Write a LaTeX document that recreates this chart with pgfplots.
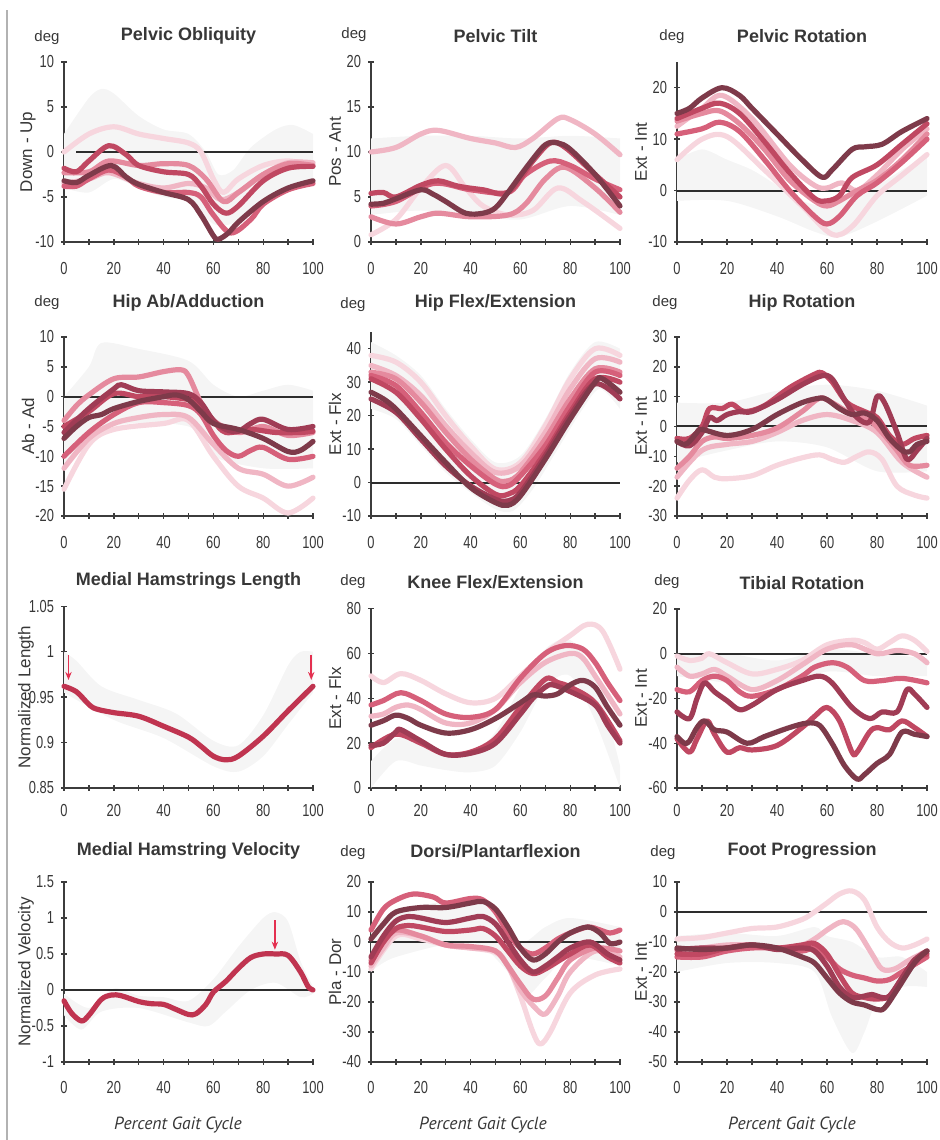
\documentclass[border=0pt]{standalone}
\usepackage{pgfplots}
\pgfplotsset{compat=1.18}
\usepgfplotslibrary{fillbetween}
\usetikzlibrary{arrows.meta}
\usepackage{fontspec}
\setmainfont{Liberation Sans}
\newfontfamily\narrowfont[FakeStretch=0.74]{Liberation Sans}
\newfontfamily\ptfont{PT Sans}
\definecolor{c1}{RGB}{126,58,74}
\definecolor{c2}{RGB}{160,60,85}
\definecolor{c3}{RGB}{192,72,98}
\definecolor{c4}{RGB}{214,96,122}
\definecolor{c5}{RGB}{229,138,158}
\definecolor{c6}{RGB}{240,182,196}
\definecolor{c7}{RGB}{247,214,222}
\definecolor{bandc}{RGB}{245,245,245}
\definecolor{axisc}{RGB}{60,60,60}
\definecolor{labc}{RGB}{55,55,55}
\definecolor{zeroc}{RGB}{45,45,45}
\definecolor{mhc}{RGB}{192,52,80}
\definecolor{arrc}{RGB}{228,48,80}
\pgfplotsset{
 gait/.style={
  scale only axis, clip=false,
  axis x line=bottom, axis y line=left,
  axis line style={-, draw=axisc, line width=0.9pt},
  xmin=0, xmax=100, xtick={0,20,...,100}, minor xtick={10,30,50,70,90},
  tick align=center, major tick length=3pt, minor tick length=3pt,
  every tick/.style={draw=axisc, line width=0.7pt},
  /pgf/number format/assume math mode=true,
  ticklabel style={font=\narrowfont\fontsize{8.7}{9}\selectfont, text=labc},
  xticklabel style={anchor=center, yshift=-12pt},
  yticklabel style={xshift=0pt},
  ylabel style={font=\fontsize{8.5}{9}\selectfont, text=labc, at={(axis description cs:0,0.5)}, anchor=center, yshift=18pt},
  title style={font=\bfseries\fontsize{9}{10}\selectfont, text=labc, at={(axis description cs:0.5,1)}, anchor=center},
  width=124.5pt, height=90pt,
 },
 zl/.style={draw=zeroc, line width=1pt, forget plot},
 cv/.style={line width=2.6pt, smooth, tension=0.55, line join=round, line cap=round},
 bl/.style={draw=none, smooth, forget plot},
 bf/.style={fill=bandc, draw=none, forget plot},
}
\begin{document}
\begin{tikzpicture}
\draw[gray!60, line width=0.6pt] (3.5pt,0) -- (3.5pt,565pt);

% ---------- Panel 1: Pelvic Obliquity
\begin{axis}[gait, at={(32pt,449pt)}, anchor=south west, ymin=-10, ymax=10, ytick={-10,-5,0,5,10},
  ylabel={Down - Up}, title={Pelvic Obliquity}, title style={yshift=7pt}]
\addplot[bl, name path=U] coordinates {(0,2)(10,6)(15,7)(20,6.5)(30,4)(40,2.5)(50,2)(57,0)(62,-2.5)(68,-2)(75,0.5)(85,2.5)(92,3)(100,2)};
\addplot[bl, name path=L] coordinates {(0,-4)(10,-4.5)(20,-3)(30,-4)(40,-5)(50,-5.5)(60,-8)(67,-8)(75,-6.5)(85,-4.5)(100,-3.5)};
\addplot[bf] fill between[of=U and L];
\addplot[zl] coordinates {(5,0)(100,0)};
\addplot[cv, c7] coordinates {(0,0)(10,2)(20,2.8)(30,2)(40,1.5)(50,1)(55,0)(60,-3)(64,-4.5)(70,-3)(80,-1.5)(90,-1)(100,-1.5)};
\addplot[cv, c6] coordinates {(0,-3.5)(10,-3)(18,-2.3)(30,-3.5)(40,-4)(50,-3.5)(57,-4)(63,-5.3)(70,-4.5)(80,-2.5)(90,-1.2)(100,-1.2)};
\addplot[cv, c5] coordinates {(0,-2.3)(10,-2.2)(18,-1)(30,-1.5)(40,-1.3)(50,-1.5)(57,-3)(64,-5.5)(70,-4.5)(80,-2.5)(90,-1.3)(100,-1.5)};
\addplot[cv, c4] coordinates {(0,-3.8)(5,-3.8)(10,-3)(18,-2)(25,-2.8)(30,-3.8)(40,-4.5)(50,-4.5)(55,-5)(60,-7)(67,-9)(75,-7.5)(80,-5.8)(90,-4.2)(100,-3.5)};
\addplot[cv, c3] coordinates {(0,-1.8)(5,-2.2)(10,-1)(18,0.7)(25,-0.3)(30,-1.5)(40,-2.2)(50,-2.5)(55,-3.8)(60,-5.8)(65,-6.8)(70,-6)(80,-3.2)(90,-1.8)(100,-1.6)};
\addplot[cv, c1] coordinates {(0,-3.2)(5,-3.4)(10,-2.6)(19,-1.5)(25,-2.8)(30,-3.6)(40,-4.5)(50,-5.3)(55,-7)(60,-9.3)(62,-9.7)(66,-9)(70,-7.8)(80,-5.5)(90,-4)(100,-3.2)};
\end{axis}

% ---------- Panel 2: Pelvic Tilt
\begin{axis}[gait, at={(185.5pt,449pt)}, anchor=south west, ymin=0, ymax=20, ytick={0,5,10,15,20},
  ylabel={Pos - Ant}, title={Pelvic Tilt}, title style={yshift=7pt}]
\addplot[bl, name path=U] coordinates {(0,11.5)(20,11.8)(40,11.8)(60,11.5)(80,11.8)(100,11.5)};
\addplot[bl, name path=L] coordinates {(0,3)(20,3.5)(40,3)(60,2.5)(80,4)(100,3)};
\addplot[bf] fill between[of=U and L];
\addplot[cv, c7] coordinates {(0,0.8)(10,2.5)(20,6)(30,8.5)(38,6)(45,4)(55,3)(65,3.5)(75,6)(85,4.5)(100,1.5)};
\addplot[cv, c6] coordinates {(0,10)(10,10.5)(20,12)(27,12.4)(40,11.5)(50,11)(58,10.5)(65,11.5)(75,13.7)(80,13.6)(90,12)(100,9.7)};
\addplot[cv, c5] coordinates {(0,2.8)(10,2)(20,2.8)(27,3.2)(40,2.8)(55,3)(62,4.2)(70,7)(78,8.3)(90,6)(100,3.3)};
\addplot[cv, c4] coordinates {(0,4)(10,4.5)(25,6.5)(40,5.8)(55,5.5)(62,7.5)(72,9)(80,8.5)(90,7)(100,5.8)};
\addplot[cv, c3] coordinates {(0,5.4)(5,5.5)(10,5)(20,6.3)(27,6.8)(35,6.2)(45,5.8)(55,5.5)(65,9)(72,11)(78,10.5)(90,7.5)(100,5)};
\addplot[cv, c1] coordinates {(0,4.2)(5,4.3)(10,4.8)(20,5.8)(25,5.3)(30,4.5)(38,3.2)(45,3.2)(50,3.8)(55,5.5)(63,8.5)(70,10.8)(75,11)(80,10.3)(90,7.5)(100,4)};
\end{axis}

% ---------- Panel 3: Pelvic Rotation
\begin{axis}[gait, at={(338.5pt,449pt)}, anchor=south west, width=125pt, ymin=-10, ymax=25, ytick={-10,0,10,20},
  ylabel={Ext - Int}, title={Pelvic Rotation}, title style={yshift=7pt}]
\addplot[bl, name path=U] coordinates {(0,6)(10,8)(20,6)(30,4)(40,1)(50,-2)(60,-3)(70,-1)(80,1)(90,4)(100,7)};
\addplot[bl, name path=L] coordinates {(0,-2)(20,-2)(40,-5)(55,-8)(65,-9)(80,-6)(100,-1)};
\addplot[bf] fill between[of=U and L];
\addplot[zl] coordinates {(0,0)(100,0)};
\addplot[cv, c7] coordinates {(0,6)(10,10)(20,10.5)(35,4)(50,-3)(62,-8.5)(70,-7)(80,-1)(90,3)(100,7)};
\addplot[cv, c6] coordinates {(0,12.5)(10,16)(18,18.5)(30,14)(45,5)(55,1)(60,0.5)(66,1.5)(72,0)(80,3)(90,8)(100,12)};
\addplot[cv, c5] coordinates {(0,13.5)(10,15)(17,15.5)(25,13)(35,8)(45,2)(55,-2)(60,-3)(65,-2)(72,0)(80,2)(90,6)(100,11)};
\addplot[cv, c4] coordinates {(0,11)(10,12)(17,13.3)(25,11.5)(35,6)(45,0)(55,-5)(60,-6.5)(65,-5)(72,-1)(80,1.5)(90,5.5)(100,10)};
\addplot[cv, c3] coordinates {(0,14)(10,16)(17,17)(25,15)(35,9.5)(45,3.5)(55,-1.5)(60,-2)(65,-1)(70,2.5)(80,5)(90,9)(100,13)};
\addplot[cv, c1] coordinates {(0,15)(5,16)(10,18)(18,20)(25,18.5)(30,16)(40,11)(50,6)(58,2.6)(62,4)(70,8)(75,8.5)(82,9)(90,11.5)(100,14)};
\end{axis}

% ---------- Panel 4: Hip Ab/Adduction
\begin{axis}[gait, at={(32pt,312pt)}, anchor=south west, height=89.5pt, ymin=-20, ymax=10, ytick={-20,-15,-10,-5,0,5,10},
  ylabel={Ab - Ad}, title={Hip Ab/Adduction}, title style={yshift=11pt}]
\addplot[bl, name path=U] coordinates {(0,0)(10,5)(15,9)(30,8)(50,6)(60,2)(70,0)(80,1)(90,2)(100,1)};
\addplot[bl, name path=L] coordinates {(0,-12)(20,-5)(50,-5)(60,-10)(80,-12)(100,-12)};
\addplot[bf] fill between[of=U and L];
\addplot[zl] coordinates {(0,0)(100,0)};
\addplot[cv, c7] coordinates {(0,-15.5)(10,-8)(20,-5.5)(40,-4.5)(50,-4)(60,-10)(70,-15)(80,-17)(90,-19.5)(100,-17)};
\addplot[cv, c6] coordinates {(0,-12)(10,-7)(20,-4.5)(30,-3.5)(40,-3)(50,-3.5)(60,-8)(70,-12)(80,-13)(90,-15)(100,-13.5)};
\addplot[cv, c5] coordinates {(0,-4)(5,-1.5)(10,0.3)(20,3)(30,3.3)(40,4.2)(47,4.5)(50,3.5)(55,-1)(60,-4)(70,-6)(80,-5)(90,-6.5)(100,-6)};
\addplot[cv, c4] coordinates {(0,-10)(10,-6)(20,-3)(30,-1)(40,-1)(50,-1.5)(55,-3)(60,-6.5)(65,-9)(70,-10)(75,-9)(80,-8.5)(90,-10.5)(100,-10)};
\addplot[cv, c3] coordinates {(0,-5)(10,-2.5)(20,0.5)(30,0)(40,0)(50,-0.5)(55,-1.5)(60,-4)(65,-6)(75,-5.5)(85,-6)(95,-6)(100,-5.8)};
\addplot[cv, c2] coordinates {(0,-6)(10,-2)(20,1.3)(23,2)(30,1)(40,0.8)(50,0.5)(55,-1)(60,-4)(65,-5.5)(70,-5.8)(75,-4.5)(80,-3.8)(90,-5.5)(100,-5)};
\addplot[cv, c1] coordinates {(0,-7)(5,-5)(10,-3.5)(15,-3)(20,-2)(30,-0.8)(40,0)(45,0.3)(50,-0.5)(55,-2.5)(60,-4.5)(70,-5.5)(80,-7)(90,-9.2)(95,-9)(100,-7.5)};
\end{axis}

% ---------- Panel 5: Hip Flex/Extension
\begin{axis}[gait, at={(185.5pt,312pt)}, anchor=south west, height=92pt, ymin=-10, ymax=45, ytick={-10,0,10,20,30,40},
  ylabel={Ext - Flx}, title={Hip Flex/Extension}, title style={yshift=8.5pt}]
\addplot[bl, name path=U] coordinates {(0,42)(10,38)(20,32)(30,22)(40,13)(50,6)(60,8)(70,19)(80,33)(90,42)(100,40)};
\addplot[bl, name path=L] coordinates {(0,22)(10,19)(20,11)(30,3)(40,-3)(50,-8)(57,-8.5)(65,-2)(75,10)(85,22)(92,28)(100,22)};
\addplot[bf] fill between[of=U and L];
\addplot[zl] coordinates {(0,0)(100,0)};
\addplot[cv, c7] coordinates {(0,38)(10,36)(20,30)(30,20)(40,11)(50,4)(60,6)(70,17)(80,31)(90,40)(100,38)};
\addplot[cv, c6] coordinates {(0,35)(10,32)(20,26)(30,17)(40,9)(50,3)(60,5)(70,15)(80,28)(90,37)(100,36)};
\addplot[cv, c5] coordinates {(0,33)(10,31)(20,24)(30,15)(40,7)(50,1)(55,0.5)(60,3)(70,13)(80,25)(90,34)(100,33)};
\addplot[cv, c4] coordinates {(0,32)(10,29)(20,21)(30,12)(40,5)(50,-0.5)(55,-1)(60,2)(70,11)(80,23)(90,33)(100,32)};
\addplot[cv, c3] coordinates {(0,31)(10,27)(20,19)(30,10)(40,2)(50,-3.5)(55,-3.5)(60,-1)(70,9)(80,21)(90,31)(100,30)};
\addplot[cv, c2] coordinates {(0,25)(10,21)(20,13)(30,5)(40,-1)(50,-5)(55,-5.5)(60,-3)(70,8)(80,20)(90,29.5)(100,25)};
\addplot[cv, c1] coordinates {(0,27)(5,25)(10,22)(20,14)(30,6)(40,-1.5)(50,-6)(55,-6.8)(60,-4)(70,7)(80,19)(90,30)(93,31)(100,27)};
\end{axis}

% ---------- Panel 6: Hip Rotation
\begin{axis}[gait, at={(338.5pt,312pt)}, anchor=south west, width=125pt, height=89.5pt, ymin=-30, ymax=30, ytick={-30,-20,-10,0,10,20,30},
  ylabel={Ext - Int}, title={Hip Rotation}, title style={yshift=11pt}]
\addplot[bl, name path=U] coordinates {(0,8)(20,8)(40,12)(60,14)(80,12)(100,7)};
\addplot[bl, name path=L] coordinates {(0,-12)(20,-8)(40,-5)(60,-7)(80,-15)(100,-15)};
\addplot[bf] fill between[of=U and L];
\addplot[zl] coordinates {(0,0)(100,0)};
\addplot[cv, c7] coordinates {(0,-24)(5,-18)(10,-14.5)(15,-17)(20,-17.5)(30,-16.5)(40,-13)(50,-10.5)(57,-9.5)(62,-11)(67,-12)(72,-10)(77,-8.5)(82,-11)(88,-20)(95,-23)(100,-24)};
\addplot[cv, c6] coordinates {(0,-17)(10,-8)(20,-6)(30,-5)(40,-2)(50,2)(60,4)(70,2)(80,-2)(90,-12)(100,-17)};
\addplot[cv, c5] coordinates {(0,-14)(5,-10)(10,-5)(15,-3.5)(20,-4)(30,-3)(40,-0.5)(50,5)(57,9.5)(62,8)(70,4)(77,2)(82,-2)(88,-8)(93,-13)(100,-13)};
\addplot[cv, c3] coordinates {(0,-4)(5,-4)(10,0)(13,6)(18,6)(22,7.5)(27,5)(35,7)(45,13)(55,17.5)(58,18)(62,15)(68,8)(75,5)(80,3)(85,-3)(90,-6)(95,-4)(100,-3)};
\addplot[cv, c2] coordinates {(0,-5)(5,-6.5)(10,-2)(13,3)(16,2)(20,4)(25,5)(30,5)(40,9)(50,14)(58,17)(62,16)(67,9)(72,3)(77,1.5)(80,10)(83,8)(88,-2)(92,-11)(96,-8)(100,-4)};
\addplot[cv, c1] coordinates {(0,-5)(3,-6)(5,-5)(8,-2)(10,-1)(20,-3)(30,-1)(40,4)(50,8)(57,9.5)(60,9)(65,6)(70,4)(75,4.5)(80,2)(85,-4)(90,-8)(93,-8.5)(96,-6)(100,-5)};
\end{axis}

% ---------- Panel 7: Medial Hamstrings Length
\begin{axis}[gait, at={(32pt,176pt)}, anchor=south west, height=90.8pt, ymin=0.85, ymax=1.05, ytick={0.85,0.9,0.95,1,1.05},
  yticklabel style={/pgf/number format/fixed},
  xticklabel style={yshift=2pt},
  ylabel={Normalized Length}, ylabel style={yshift=1pt}, title={Medial Hamstrings Length}, title style={yshift=7pt}]
\addplot[bl, name path=U] coordinates {(0,1.0)(5,0.99)(15,0.962)(30,0.947)(45,0.932)(60,0.902)(70,0.897)(80,0.93)(90,0.985)(95,1.0)(100,1.0)};
\addplot[bl, name path=L] coordinates {(0,0.955)(20,0.925)(40,0.905)(60,0.874)(70,0.868)(80,0.885)(90,0.92)(100,0.955)};
\addplot[bf] fill between[of=U and L];
\addplot[cv, mhc] coordinates {(0,0.962)(5,0.956)(10,0.942)(13,0.937)(20,0.933)(30,0.929)(40,0.918)(50,0.906)(55,0.896)(60,0.885)(65,0.881)(70,0.885)(80,0.907)(90,0.935)(100,0.962)};
\draw[-{Stealth[length=4pt,width=3.2pt]}, arrc, line width=0.8pt] (axis cs:1.8,0.996) -- (axis cs:1.8,0.969);
\draw[-{Stealth[length=4pt,width=3.2pt]}, arrc, line width=0.8pt] (axis cs:99.3,0.997) -- (axis cs:99.3,0.969);
\end{axis}

% ---------- Panel 8: Knee Flex/Extension
\begin{axis}[gait, at={(185.5pt,176pt)}, anchor=south west, height=89.7pt, ymin=0, ymax=80, ytick={0,20,40,60,80},
  xticklabel style={yshift=2pt},
  ylabel={Ext - Flx}, title={Knee Flex/Extension}, title style={yshift=7pt}]
\addplot[bl, name path=U] coordinates {(0,12)(10,22)(20,20)(30,15)(40,15)(50,25)(60,45)(70,62)(80,66)(90,50)(100,10)};
\addplot[bl, name path=L] coordinates {(0,0)(10,12)(20,10)(30,8)(40,7)(50,10)(60,25)(70,45)(80,50)(90,30)(100,0)};
\addplot[bf] fill between[of=U and L];
\addplot[cv, c7] coordinates {(0,50)(5,47)(12,51)(20,48)(30,42)(40,38)(50,40)(60,50)(70,60)(80,68)(87,73)(93,70)(100,53)};
\addplot[cv, c6] coordinates {(0,32)(5,33)(10,36)(15,37)(20,35)(30,29)(40,29)(50,35)(60,47)(70,56)(80,60)(85,58)(90,50)(100,33)};
\addplot[cv, c4] coordinates {(0,37)(5,39)(12,42.5)(20,39)(30,33)(40,31.5)(50,35)(60,49)(70,60)(78,63.5)(85,62)(90,56)(95,47)(100,39)};
\addplot[cv, c3] coordinates {(0,18)(10,24)(20,20)(30,15)(40,16)(50,22)(60,36)(70,48.5)(75,47)(80,45)(90,38)(100,21)};
\addplot[cv, c2] coordinates {(0,19)(5,20)(10,25)(12,26)(20,21)(30,15)(40,15.5)(50,20)(60,33)(65,40)(70,45)(73,46)(80,43)(90,37)(95,28)(100,20)};
\addplot[cv, c1] coordinates {(0,28)(5,30)(10,32.5)(15,31)(20,28)(30,24.5)(40,26)(50,31)(60,38)(65,41.5)(70,41)(75,42)(80,46)(85,48)(90,45)(95,36)(100,28)};
\end{axis}

% ---------- Panel 9: Tibial Rotation
\begin{axis}[gait, at={(338.5pt,176pt)}, anchor=south west, width=125pt, height=89.5pt, ymin=-60, ymax=20, ytick={-60,-40,-20,0,20},
  xticklabel style={yshift=2pt},
  ylabel={Ext - Int}, title={Tibial Rotation}, title style={yshift=7pt}]
\addplot[bl, name path=U] coordinates {(0,-1)(20,0)(40,-3)(60,2)(80,0)(100,-2)};
\addplot[bl, name path=L] coordinates {(0,-10)(20,-13)(40,-15)(60,-8)(80,-10)(100,-10)};
\addplot[bf] fill between[of=U and L];
\addplot[zl] coordinates {(0,0)(100,0)};
\addplot[cv, c7] coordinates {(0,-1)(5,-3)(10,-2)(13,0)(20,-4)(30,-9)(40,-7)(50,-3)(60,4)(70,6)(75,5)(80,2)(85,5)(90,8)(95,6)(100,1)};
\addplot[cv, c6] coordinates {(0,-6)(5,-10)(10,-9)(15,-7)(20,-10)(30,-16)(40,-12)(50,-5)(60,2)(70,4)(80,0)(88,1.5)(95,0)(100,-4)};
\addplot[cv, c4] coordinates {(0,-16)(5,-17)(10,-12)(15,-10)(20,-12)(25,-17)(30,-19)(40,-16)(50,-10)(55,-6)(62,-4)(68,-6)(75,-12)(82,-12)(90,-11)(100,-13)};
\addplot[cv, c3] coordinates {(0,-38)(5,-44)(8,-38)(12,-30)(15,-36)(20,-44)(25,-42)(30,-43)(40,-41)(50,-33)(55,-28)(60,-24)(65,-30)(70,-44)(72,-44)(77,-35)(80,-33)(85,-34)(90,-30)(95,-33)(100,-37)};
\addplot[cv, c2] coordinates {(0,-26)(5,-29)(8,-20)(11,-13)(15,-17)(20,-21)(25,-25)(30,-23)(40,-16)(50,-12)(57,-10)(62,-13)(70,-24)(77,-29)(82,-26)(88,-26)(92,-16)(95,-18)(100,-24)};
\addplot[cv, c1] coordinates {(0,-37)(3,-40)(5,-39)(8,-33)(11,-30)(15,-34)(20,-35)(28,-40)(35,-37)(45,-33)(52,-31)(57,-32)(62,-40)(67,-50)(72,-56)(75,-54)(80,-49)(85,-45)(90,-35)(95,-36)(100,-37)};
\end{axis}

% ---------- Panel 10: Medial Hamstring Velocity
\begin{axis}[gait, at={(32pt,39pt)}, anchor=south west, ymin=-1, ymax=1.5, ytick={-1,-0.5,0,0.5,1,1.5},
  xticklabel style={yshift=0.5pt},
  ylabel={Normalized Velocity}, ylabel style={yshift=1pt}, title={Medial Hamstring Velocity}, title style={yshift=9.5pt}]
\addplot[bl, name path=U] coordinates {(0,-0.05)(10,-0.25)(20,0.02)(30,-0.08)(40,-0.1)(50,-0.15)(60,0.15)(70,0.6)(80,1.0)(85,1.08)(90,0.95)(95,0.4)(100,0.05)};
\addplot[bl, name path=L] coordinates {(0,-0.35)(7,-0.55)(15,-0.3)(30,-0.25)(50,-0.45)(58,-0.5)(65,-0.3)(75,0)(85,0.1)(95,-0.1)(100,-0.05)};
\addplot[bf] fill between[of=U and L];
\addplot[zl] coordinates {(0,0)(100,0)};
\addplot[cv, mhc] coordinates {(0,-0.15)(3,-0.32)(7,-0.43)(10,-0.35)(15,-0.13)(19,-0.07)(23,-0.08)(30,-0.16)(35,-0.19)(40,-0.2)(45,-0.27)(50,-0.34)(53,-0.33)(57,-0.2)(60,-0.03)(65,0.12)(70,0.3)(75,0.45)(80,0.5)(85,0.5)(90,0.48)(95,0.25)(98,0.05)(100,0)};
\draw[-{Stealth[length=4pt,width=3.2pt]}, arrc, line width=0.8pt] (axis cs:84.7,0.97) -- (axis cs:84.7,0.56);
\end{axis}

% ---------- Panel 11: Dorsi/Plantarflexion
\begin{axis}[gait, at={(185.5pt,39pt)}, anchor=south west, ymin=-40, ymax=20, ytick={-40,-30,-20,-10,0,10,20},
  xticklabel style={yshift=0.5pt},
  ylabel={Pla - Dor}, title={Dorsi/Plantarflexion}, title style={yshift=9.5pt}]
\addplot[bl, name path=U] coordinates {(0,5)(10,10)(40,15)(50,12)(60,0)(70,5)(80,8)(100,5)};
\addplot[bl, name path=L] coordinates {(0,-10)(10,-5)(40,0)(55,-10)(62,-18)(70,-12)(80,-5)(100,-8)};
\addplot[bf] fill between[of=U and L];
\addplot[zl] coordinates {(0,0)(100,0)};
\addplot[cv, c7] coordinates {(0,-9)(10,2)(20,1)(30,-1)(40,-2)(50,-3.5)(55,-8)(60,-18)(65,-30)(68,-34)(72,-30)(80,-17)(90,-11)(100,-9)};
\addplot[cv, c6] coordinates {(0,-8)(5,-2)(10,3)(20,2)(30,-1)(40,-2)(50,-3)(55,-8)(60,-16)(66,-22)(70,-24)(75,-18)(80,-10)(90,-3)(100,-5)};
\addplot[cv, c5] coordinates {(0,-6)(5,0)(10,4)(20,2)(30,-1)(40,-1.5)(50,-3)(55,-8)(60,-14)(65,-19)(70,-18)(75,-12)(80,-6)(90,-2)(100,-3)};
\addplot[cv, c4] coordinates {(0,4)(5,11)(10,14)(17,16)(25,15)(30,13)(40,14.5)(45,14)(50,10)(55,3)(60,-2)(65,-4)(70,-2)(75,1)(80,3)(87,5)(92,4)(96,3)(100,4)};
\addplot[cv, c3] coordinates {(0,-7)(5,0)(10,4.5)(15,5.5)(20,5)(30,3.5)(40,4)(45,4.5)(50,2)(55,-3)(60,-8)(65,-10.5)(70,-9)(80,-4)(88,-1)(95,-5)(100,-7)};
\addplot[cv, c2] coordinates {(0,-5)(5,2)(10,7)(15,8.5)(20,8)(30,6.5)(40,8)(45,8.5)(50,6)(55,0)(60,-6)(65,-10)(70,-8)(75,-5)(80,-2)(88,0)(95,-4)(100,-6)};
\addplot[cv, c1] coordinates {(0,1)(5,6)(10,10)(20,11.5)(30,11.5)(40,13)(45,13.5)(50,11)(55,5)(60,-2)(65,-6)(70,-4)(75,0)(80,3)(87,5)(92,3)(96,-0.5)(100,0)};
\end{axis}

% ---------- Panel 12: Foot Progression
\begin{axis}[gait, at={(338.5pt,39pt)}, anchor=south west, width=125pt, ymin=-50, ymax=10, ytick={-50,-40,-30,-20,-10,0,10},
  xticklabel style={yshift=0.5pt},
  ylabel={Ext - Int}, title={Foot Progression}, title style={yshift=9.5pt}]
\addplot[bl, name path=U] coordinates {(0,-8)(20,-7)(40,-8)(55,-5)(60,-8)(70,-10)(80,-15)(90,-15)(100,-20)};
\addplot[bl, name path=L] coordinates {(0,-20)(20,-17)(40,-17)(55,-20)(62,-35)(70,-47)(75,-40)(80,-30)(90,-25)(100,-25)};
\addplot[bf] fill between[of=U and L];
\addplot[zl] coordinates {(0,0)(100,0)};
\addplot[cv, c7] coordinates {(0,-9)(10,-8.5)(20,-7)(30,-5.5)(40,-5)(50,-2.5)(55,0)(60,3)(65,6)(70,7)(75,4)(80,-5)(85,-10)(90,-12)(95,-11)(100,-9)};
\addplot[cv, c6] coordinates {(0,-13)(10,-12)(20,-11)(30,-11)(40,-12)(50,-11)(55,-9)(60,-6)(65,-3.5)(68,-3.5)(72,-6)(78,-14)(82,-19)(87,-19)(93,-16)(100,-13)};
\addplot[cv, c4] coordinates {(0,-15)(10,-15)(20,-13)(30,-12)(40,-12)(50,-13)(55,-12)(60,-15)(65,-19)(70,-21)(75,-22)(80,-23)(85,-22.5)(90,-20)(100,-15)};
\addplot[cv, c3] coordinates {(0,-14)(10,-14)(20,-12)(30,-11)(40,-12)(50,-11)(55,-10.5)(60,-14)(65,-21)(70,-27)(75,-28.5)(80,-29)(85,-28)(90,-22)(95,-16)(100,-14)};
\addplot[cv, c2] coordinates {(0,-12.5)(10,-12)(20,-12)(30,-11)(40,-12.5)(50,-12)(55,-13)(60,-18)(65,-25)(70,-28.5)(75,-28)(78,-27.5)(82,-28.5)(85,-28)(90,-22)(95,-16)(100,-13)};
\addplot[cv, c1] coordinates {(0,-12)(10,-12.5)(20,-12)(30,-11)(40,-12)(50,-15)(55,-17)(60,-22)(65,-27)(70,-30)(75,-31)(80,-32.5)(83,-32)(88,-26)(95,-17)(100,-13)};
\end{axis}

% ---------- unit labels and x captions
\begin{scope}[every node/.style={font=\fontsize{7.5}{8}\selectfont, text=labc}]
\node at (23.5pt,551pt) {deg};
\node at (177pt,552.5pt) {deg};
\node at (336pt,551.5pt) {deg};
\node at (23.5pt,418.5pt) {deg};
\node at (176.5pt,417.5pt) {deg};
\node at (332.5pt,418.5pt) {deg};
\node at (176.5pt,279pt) {deg};
\node at (333.5pt,279pt) {deg};
\node at (176.5pt,143.5pt) {deg};
\node at (331.5pt,143.5pt) {deg};
\end{scope}
\begin{scope}[every node/.style={font=\ptfont\itshape\fontsize{8.8}{10}\selectfont, text=labc}]
\node at (89pt,7.5pt) {Percent Gait Cycle};
\node at (241.5pt,7.5pt) {Percent Gait Cycle};
\node at (396pt,7.5pt) {Percent Gait Cycle};
\end{scope}
\pgfresetboundingbox
\path[use as bounding box] (0,0) rectangle (470pt,570pt);
\end{tikzpicture}
\end{document}
